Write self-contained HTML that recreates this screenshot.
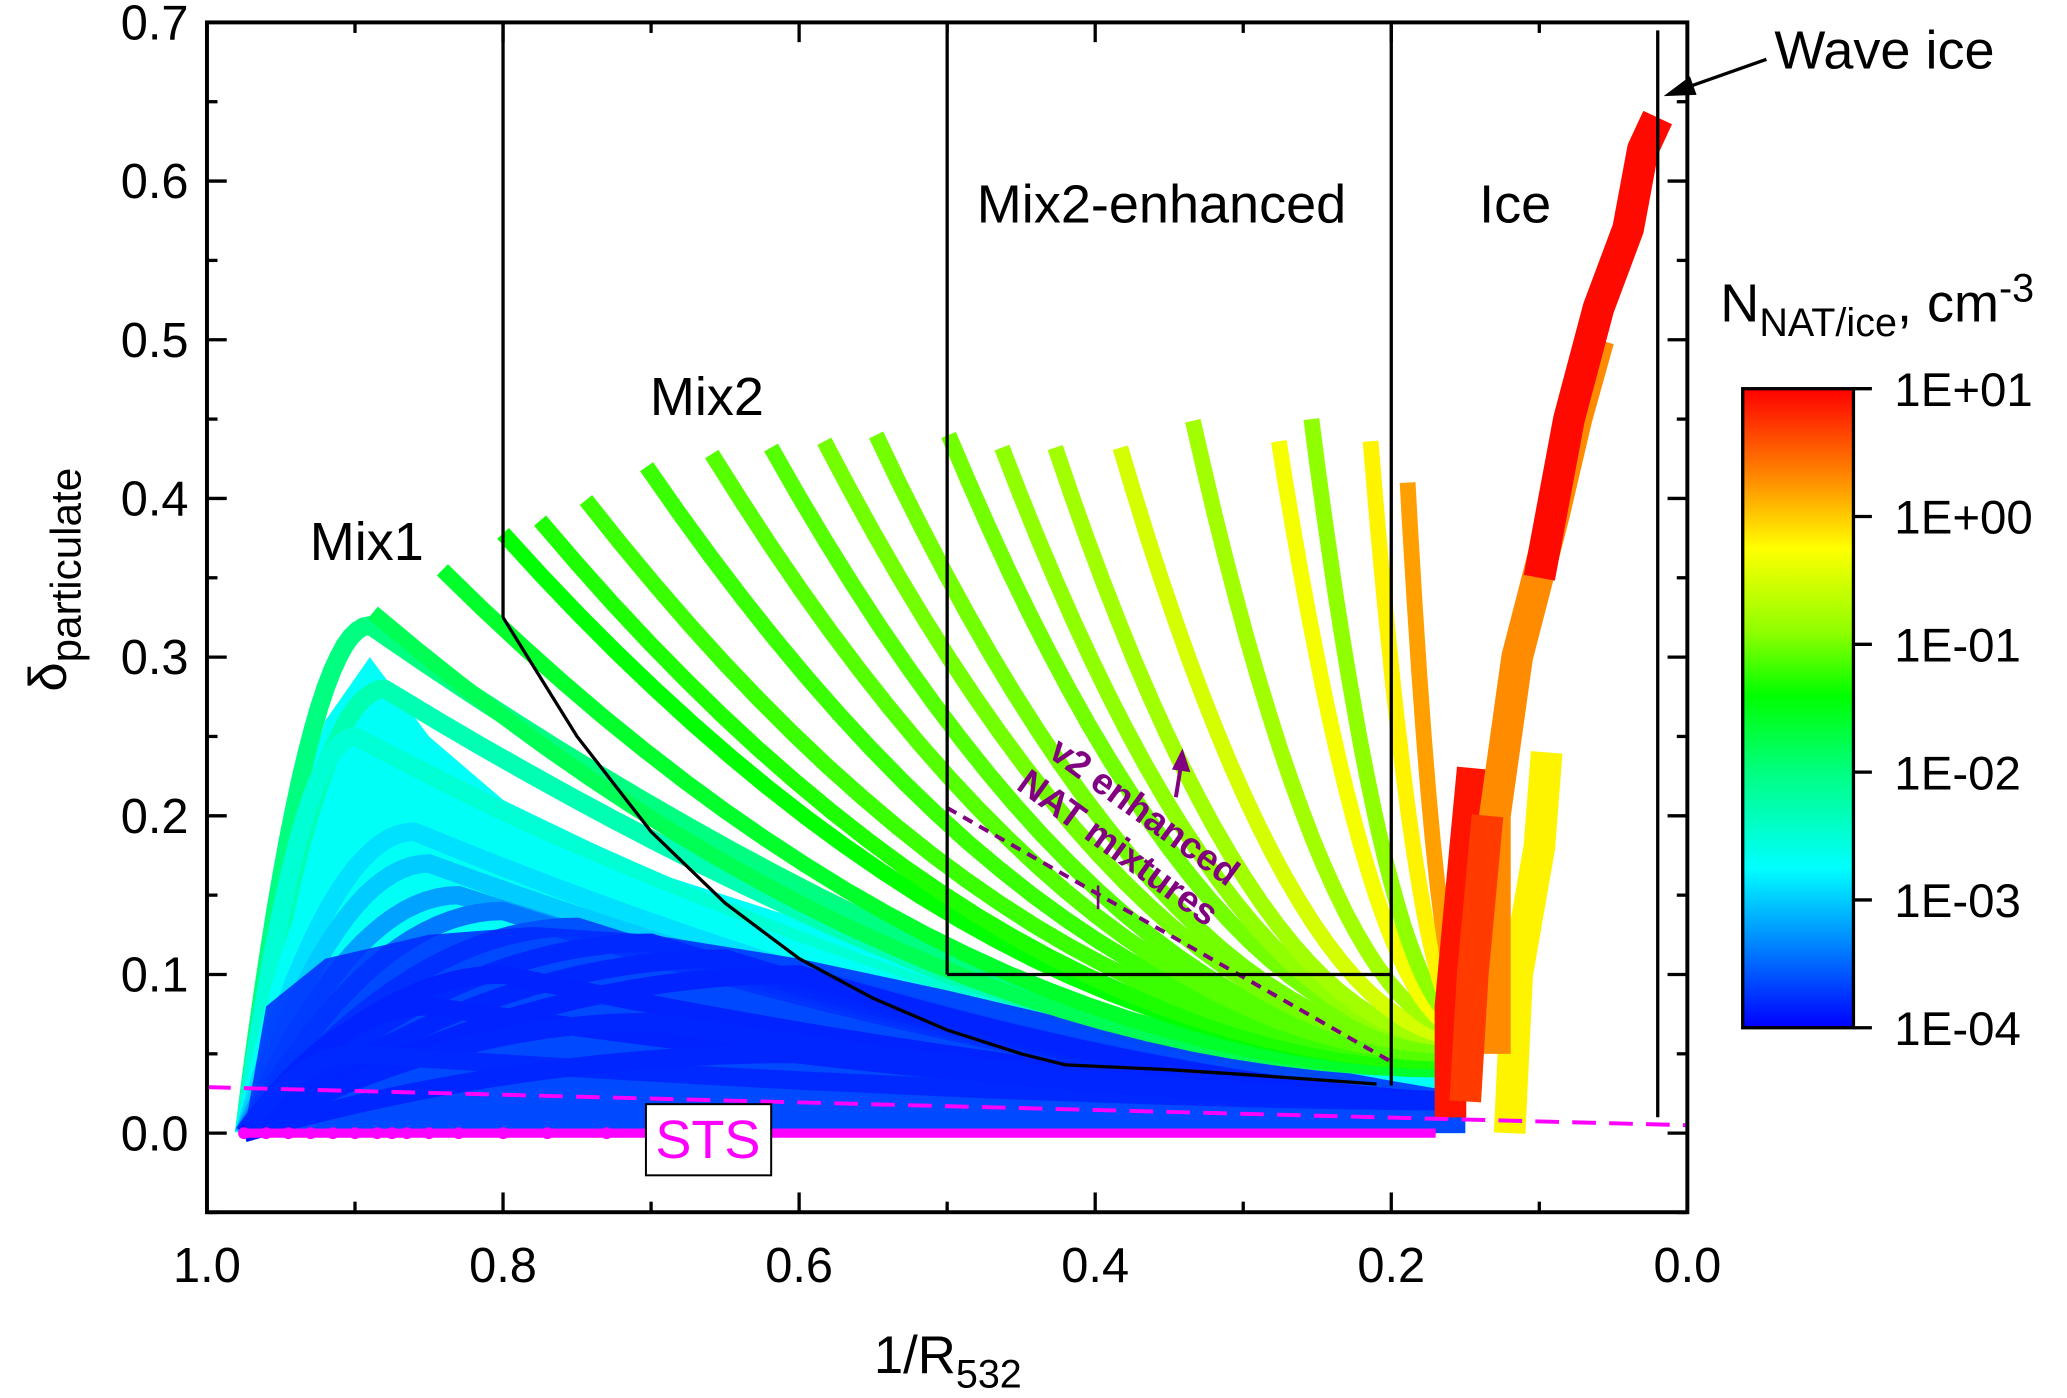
<!DOCTYPE html>
<html><head><meta charset="utf-8"><style>
html,body{margin:0;padding:0;background:#fff;}
svg{display:block;font-family:"Liberation Sans",Arial,sans-serif;}
</style></head><body>
<svg id="chart" xmlns="http://www.w3.org/2000/svg" width="2067" height="1398" viewBox="0 0 1568 1061" preserveAspectRatio="none">
<rect x="0" y="0" width="1568" height="1061" fill="#fff"/>
<g id="marks"></g>
<g id="overlay"></g>
<g id="axes"></g>
<defs>
<linearGradient id="cbgrad" x1="0" y1="1" x2="0" y2="0">
<stop offset="0" stop-color="#0000ff"/><stop offset="0.25" stop-color="#00ffff"/><stop offset="0.4" stop-color="#00ff80"/><stop offset="0.52" stop-color="#00ff00"/><stop offset="0.62" stop-color="#90ff00"/><stop offset="0.75" stop-color="#ffff00"/><stop offset="0.87" stop-color="#ff8000"/><stop offset="1" stop-color="#ff0000"/>
</linearGradient>
</defs>
</svg>
<script>
// Envelope regions of dense point clouds (x, y, log10 N)
const cyanEnvX = [0.975,0.95,0.92,0.89,0.85,0.80,0.70,0.60,0.50,0.40,0.30,0.20,0.15,0.15];
const cyanEnvY = [0.0,0.17,0.26,0.30,0.25,0.21,0.165,0.135,0.105,0.08,0.06,0.045,0.035,0.0];
const cyanLogN = -2.7;
const blueEnvX = [0.975,0.96,0.92,0.85,0.78,0.70,0.60,0.50,0.40,0.30,0.20,0.15,0.15];
const blueEnvY = [0.0,0.08,0.11,0.125,0.13,0.125,0.11,0.09,0.068,0.05,0.033,0.025,0.0];
const blueLogN = -3.8;
// Mix2 family: curve top points and colour (log10 N)
const mix2TopX = [0.888,0.841,0.80,0.775,0.744,0.703,0.659,0.619,0.583,0.548,0.499,0.463,0.427,0.383,0.334,0.276,0.254,0.214,0.189];
const mix2TopY = [0.328,0.355,0.378,0.386,0.399,0.420,0.428,0.432,0.436,0.440,0.440,0.432,0.432,0.432,0.449,0.436,0.450,0.436,0.410];
const mix2LogN = [-1.8,-1.6,-1.4,-1.3,-1.2,-1.2,-1.1,-1.1,-1.0,-1.0,-1.0,-0.9,-0.8,-0.5,-0.8,-0.3,-0.9,-0.2,0.2];
const mix2EndX = [0.16,0.16,0.16,0.16,0.16,0.16,0.16,0.16,0.16,0.16,0.16,0.16,0.16,0.15,0.15,0.15,0.15,0.15,0.15];
const mix2EndY = [0.04,0.04,0.045,0.045,0.05,0.05,0.05,0.05,0.055,0.055,0.06,0.06,0.06,0.06,0.065,0.065,0.07,0.07,0.08];
// Mix1 / background family: peak points rising from x=0.975
const mix1PeakX = [0.89,0.88,0.90,0.87,0.86,0.85,0.83,0.80,0.75,0.70,0.65,0.60,0.80,0.85,0.70,0.90,0.60];
const mix1PeakY = [0.32,0.28,0.25,0.22,0.19,0.17,0.15,0.14,0.13,0.12,0.11,0.10,0.10,0.08,0.07,0.05,0.05];
const mix1LogN = [-2.0,-2.3,-2.5,-2.7,-2.9,-3.0,-3.2,-3.4,-3.6,-3.8,-3.9,-4.0,-4.0,-4.0,-3.9,-3.8,-3.9];
// Ice strands
const iceStrandX = [[0.16,0.16,0.15,0.145],[0.12,0.115,0.10,0.095],[0.13,0.13,0.115,0.09,0.075,0.06],[0.10,0.08,0.06,0.04,0.03,0.02],[0.15,0.145,0.14,0.135]];
const iceStrandY = [[0.01,0.08,0.18,0.23],[0.0,0.10,0.18,0.24],[0.05,0.20,0.30,0.39,0.45,0.50],[0.35,0.45,0.52,0.57,0.62,0.64],[0.02,0.10,0.15,0.20]];
const iceLogN = [0.9,-0.2,0.3,0.95,0.7];
// STS dots
const stsX = [0.975,0.96,0.945,0.93,0.915,0.90,0.885,0.875,0.865,0.85,0.83,0.80,0.77,0.73];
const xTicks = [1.0,0.8,0.6,0.4,0.2,0.0];
const yTicks = [0.0,0.1,0.2,0.3,0.4,0.5,0.6,0.7];
const cbLabels = ["1E+01","1E+00","1E-01","1E-02","1E-03","1E-04"];

const NS="http://www.w3.org/2000/svg";
const X=v=>157+(1-v)*1123;
const Y=v=>860-v*1204.3;
const stops=[[0,[0,0,255]],[0.25,[0,255,255]],[0.4,[0,255,128]],[0.52,[0,255,0]],[0.62,[144,255,0]],[0.75,[255,255,0]],[0.87,[255,128,0]],[1,[255,0,0]]];
function col(logN){let f=Math.max(0,Math.min(1,(logN+4)/5));for(let i=1;i<stops.length;i++){if(f<=stops[i][0]){const a=stops[i-1],b=stops[i];const t=(f-a[0])/(b[0]-a[0]);const c=a[1].map((v,k)=>Math.round(v+(b[1][k]-v)*t));return `rgb(${c[0]},${c[1]},${c[2]})`;}}return 'rgb(255,0,0)';}
function mk(tag,attrs,parent){const e=document.createElementNS(NS,tag);for(const k in attrs)e.setAttribute(k,attrs[k]);parent.appendChild(e);return e;}
const marks=document.getElementById('marks');
const overlay=document.getElementById('overlay');
const axes=document.getElementById('axes');

{const p=mk('polygon',{points:cyanEnvX.map((x,i)=>X(x)+','+Y(cyanEnvY[i])).join(' '),fill:col(cyanLogN)},marks);

}
// Mix1 family
mix1PeakX.forEach((xp,i)=>{
  const yp=mix1PeakY[i];const pts=[];
  for(let s=0;s<=1.0001;s+=0.05){const x=0.975+(xp-0.975)*s;const y=yp*(1-(1-s)*(1-s));pts.push(X(x).toFixed(1)+','+Y(y).toFixed(1));}
  for(let s=0.05;s<=1.0001;s+=0.04){const x=xp+(0.15-xp)*s;const t=1-s;const y=0.02+(yp-0.02)*Math.pow(t,1.6);pts.push(X(x).toFixed(1)+','+Y(y).toFixed(1));}
  const p=mk('polyline',{points:pts.join(' '),fill:'none',stroke:col(mix1LogN[i]),'stroke-width':14,'stroke-linejoin':'round'},marks);
  
  
});
{const p=mk('polygon',{points:blueEnvX.map((x,i)=>X(x)+','+Y(blueEnvY[i])).join(' '),fill:col(blueLogN),'fill-opacity':0.85},marks);

}
// Mix2 family
mix2TopX.forEach((x0,i)=>{
  const y0=mix2TopY[i],xe=mix2EndX[i],ye=mix2EndY[i];const pts=[];
  for(let s=0;s<=1.0001;s+=0.04){const x=x0+(xe-x0)*s;const t=1-s;const y=ye+(y0-ye)*Math.pow(t,2);pts.push(X(x).toFixed(1)+','+Y(y).toFixed(1));}
  const p=mk('polyline',{points:pts.join(' '),fill:'none',stroke:col(mix2LogN[i]),'stroke-width':12,'stroke-linejoin':'round'},marks);
  
  
});
// Ice strands
iceStrandX.forEach((xs,i)=>{
  const pts=xs.map((x,k)=>X(x).toFixed(1)+','+Y(iceStrandY[i][k]).toFixed(1)).join(' ');
  const p=mk('polyline',{points:pts,fill:'none',stroke:col(iceLogN[i]),'stroke-width':24,'stroke-linejoin':'round'},marks);
  
  
});
// STS line + dots
{const l=mk('line',{x1:X(0.975),y1:Y(0),x2:X(0.17),y2:Y(0),stroke:'#ff00ff','stroke-width':7},marks);

}
stsX.forEach(x=>{const c=mk('circle',{cx:X(x),cy:Y(0),r:4.5,fill:'#ff00ff'},marks);

});

// overlay annotations
function line(x1,y1,x2,y2,attrs,name){const a=Object.assign({x1:X(x1),y1:Y(y1),x2:X(x2),y2:Y(y2)},attrs);const e=mk('line',a,overlay);return e;}
line(1.0,0.029,0.0,0.005,{stroke:'#ff00ff','stroke-width':3,'stroke-dasharray':'18,10'},'sts-threshold-line');
line(0.5,0.205,0.2,0.045,{stroke:'#800080','stroke-width':3,'stroke-dasharray':'8,6'},'nat-enhanced-line');
line(0.8,0.7,0.8,0.325,{stroke:'#000','stroke-width':2.5},'mix1-mix2-boundary');
line(0.5,0.7,0.5,0.1,{stroke:'#000','stroke-width':2.5},'mix2-enhanced-left-boundary');
line(0.2,0.7,0.2,0.03,{stroke:'#000','stroke-width':2.5},'ice-boundary');
line(0.5,0.1,0.2,0.1,{stroke:'#000','stroke-width':2.5},'mix2-enhanced-bottom');
line(0.02,0.695,0.02,0.01,{stroke:'#000','stroke-width':2.5},'wave-ice-boundary');
{const bx=[0.8,0.75,0.7,0.65,0.6,0.55,0.5,0.45,0.42,0.35,0.3,0.21];const by=[0.325,0.25,0.19,0.145,0.11,0.085,0.065,0.05,0.043,0.04,0.037,0.031];
const e=mk('polyline',{points:bx.map((x,i)=>X(x)+','+Y(by[i])).join(' '),fill:'none',stroke:'#000','stroke-width':2.5},overlay);

}

// axes
mk('rect',{x:157,y:17,width:1123,height:903,fill:'none',stroke:'#000','stroke-width':3},axes);
for(let v=0;v<=1.0001;v+=0.1){const major=Math.round(v*10)%2===0;const L=major?15:8;const x=X(v);
 mk('line',{x1:x,y1:920,x2:x,y2:920-L,stroke:'#000','stroke-width':2.5},axes);
 mk('line',{x1:x,y1:17,x2:x,y2:17+L,stroke:'#000','stroke-width':2.5},axes);}
for(let v=-0.05;v<=0.7001;v+=0.05){const major=Math.abs(Math.round(v*10)-v*10)<0.01;const L=major?15:8;const y=Y(v);
 mk('line',{x1:157,y1:y,x2:157+L,y2:y,stroke:'#000','stroke-width':2.5},axes);
 mk('line',{x1:1280,y1:y,x2:1280-L,y2:y,stroke:'#000','stroke-width':2.5},axes);}
xTicks.forEach(v=>{const t=mk('text',{x:X(v),y:973,'text-anchor':'middle','font-size':37},axes);t.textContent=v.toFixed(1);

});
yTicks.forEach(v=>{const t=mk('text',{x:143,y:Y(v)+13,'text-anchor':'end','font-size':37},axes);t.textContent=v.toFixed(1);

});
// colorbar
mk('rect',{x:1322,y:295,width:84,height:485,fill:'url(#cbgrad)',stroke:'#000','stroke-width':2.5},axes);
cbLabels.forEach((s,i)=>{const y=295+i*97;mk('line',{x1:1406,y1:y,x2:1420,y2:y,stroke:'#000','stroke-width':2.5},axes);
const t=mk('text',{x:1437,y:y+13,'font-size':36},axes);t.textContent=s;

});
</script>
<script>
const ov=document.getElementById('chart');
ov.insertAdjacentHTML('beforeend',`
<g font-size="41" fill="#000">
<text x="235" y="425">Mix1</text>
<text x="493" y="315">Mix2</text>
<text x="741" y="169">Mix2-enhanced</text>
<text x="1122" y="169">Ice</text>
<text x="1346" y="52">Wave ice</text>
<line x1="1340" y1="45" x2="1275" y2="68" stroke="#000" stroke-width="2.5"/>
<polygon points="1262,73 1282,58 1287,72" fill="#000"/>
<text x="1305" y="244">N<tspan font-size="30" dy="11">NAT/ice</tspan><tspan dy="-11">, cm</tspan><tspan font-size="30" dy="-15">-3</tspan></text>
<rect x="490" y="838" width="95" height="54" fill="#fff" stroke="#000" stroke-width="1.5"/>
<text x="537" y="879" text-anchor="middle" fill="#ff00ff">STS</text>
<g transform="translate(858,630) rotate(36)" fill="#800080" font-size="28" font-weight="bold">
<text x="0" y="-8" text-anchor="middle">v2 enhanced</text>
<text x="0" y="26" text-anchor="middle">NAT mixtures</text>
</g>
<line x1="892" y1="605" x2="896" y2="580" stroke="#800080" stroke-width="3"/>
<polygon points="897,568 889,584 903,586" fill="#800080"/>
<line x1="833" y1="672" x2="833" y2="690" stroke="#800080" stroke-width="2"/>
<text x="719" y="1042" text-anchor="middle" font-size="40">1/R<tspan font-size="30" dy="11">532</tspan></text>
<text transform="translate(50,440) rotate(-90)" text-anchor="middle" font-size="40">δ<tspan font-size="32" dy="11">particulate</tspan></text>
</g>`);
</script>
</body></html>
